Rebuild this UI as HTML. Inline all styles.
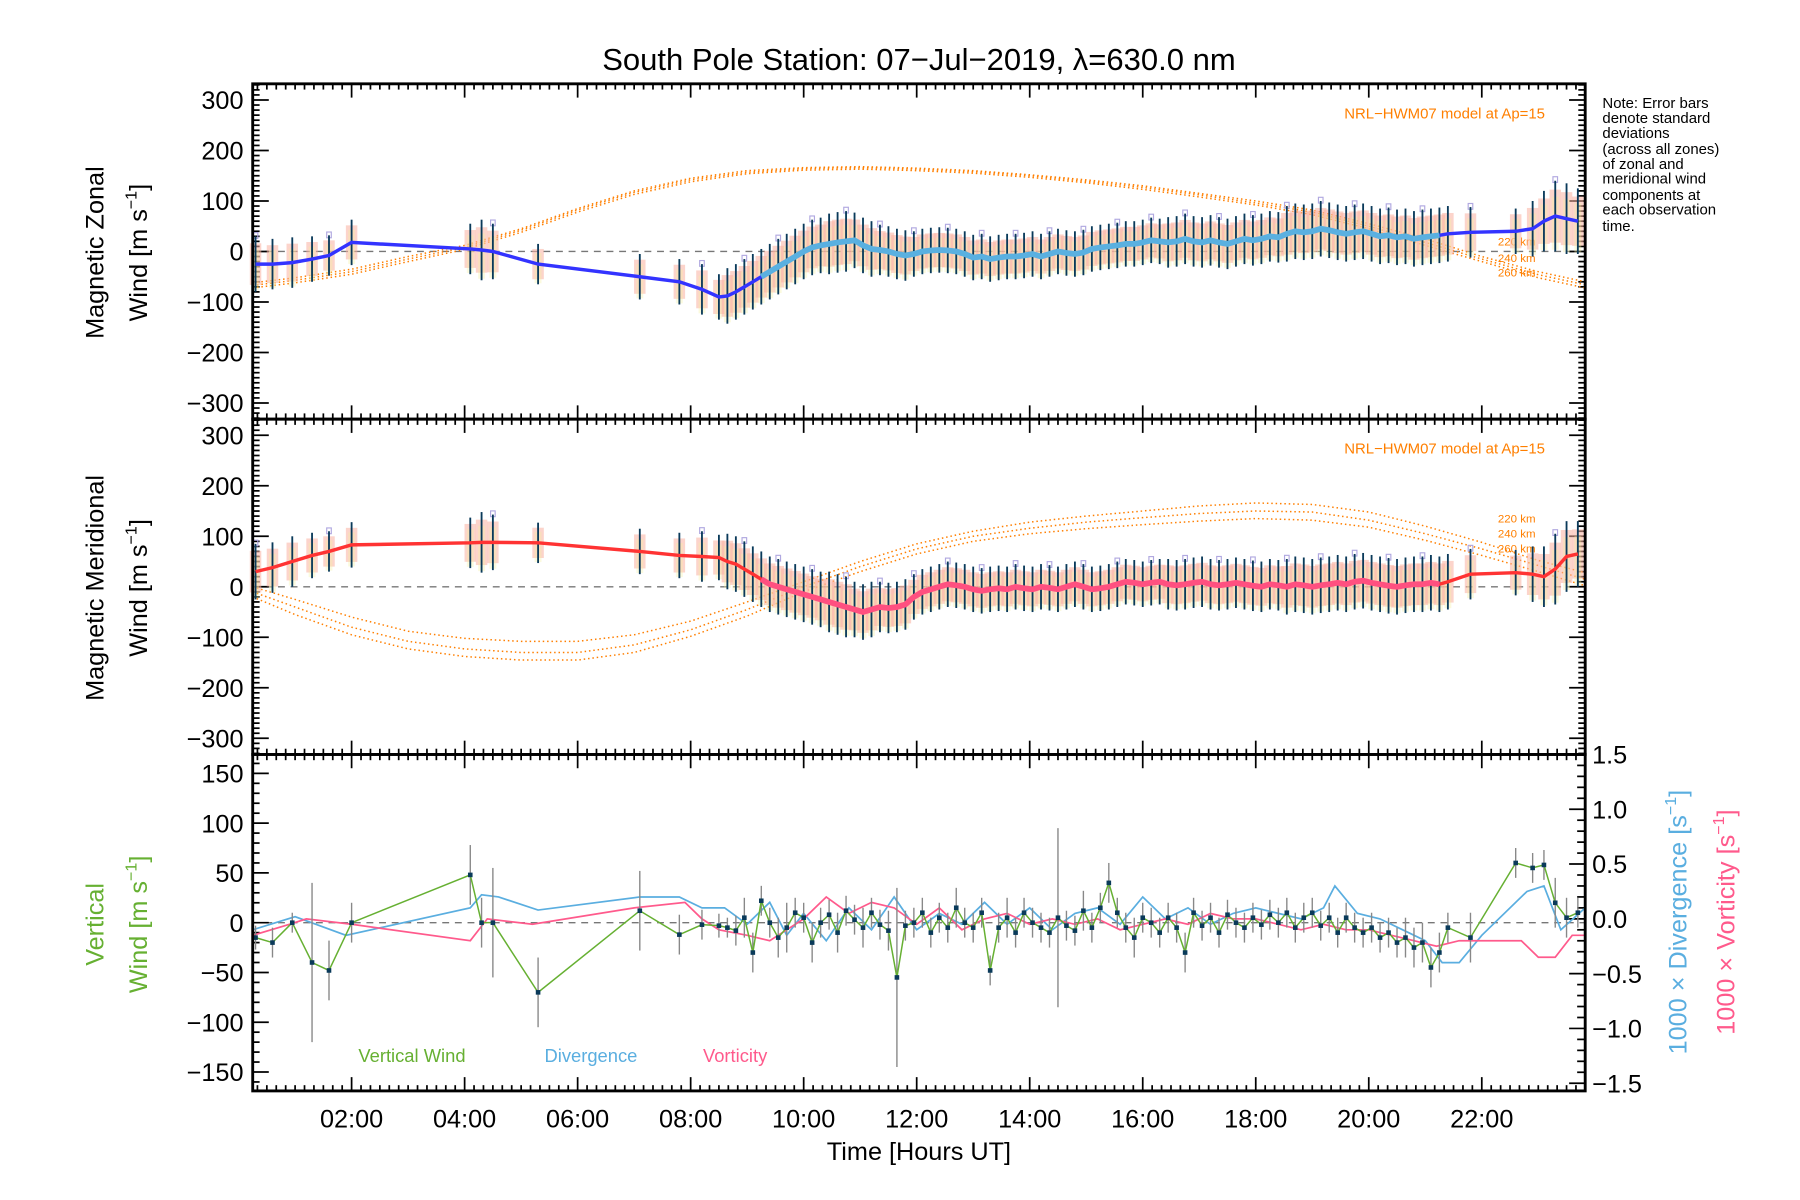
<!DOCTYPE html>
<html><head><meta charset="utf-8"><style>
html,body{margin:0;padding:0;background:#fff;}
svg{display:block;font-family:"Liberation Sans",sans-serif;}
</style></head><body>
<svg id="chart" width="1800" height="1200" viewBox="0 0 1567 1045" preserveAspectRatio="none" xmlns="http://www.w3.org/2000/svg">
<rect width="1567" height="1045" fill="#fff"/>
<text x="800" y="61" font-size="27" text-anchor="middle">South Pole Station: 07−Jul−2019, λ=630.0 nm</text>
<g id="p1"></g>
<g id="p2"></g>
<g id="p3"></g>
<text transform="translate(90,220) rotate(-90)" font-size="22" text-anchor="middle">Magnetic Zonal</text>
<text transform="translate(128,220) rotate(-90)" font-size="22" text-anchor="middle">Wind [m s<tspan font-size="14" dy="-9">−1</tspan><tspan dy="9">]</tspan></text>
<text transform="translate(90,512) rotate(-90)" font-size="22" text-anchor="middle">Magnetic Meridional</text>
<text transform="translate(128,512) rotate(-90)" font-size="22" text-anchor="middle">Wind [m s<tspan font-size="14" dy="-9">−1</tspan><tspan dy="9">]</tspan></text>
<text transform="translate(90,805) rotate(-90)" font-size="22" text-anchor="middle" fill="#66b032">Vertical</text>
<text transform="translate(128,805) rotate(-90)" font-size="22" text-anchor="middle" fill="#66b032">Wind [m s<tspan font-size="14" dy="-9">−1</tspan><tspan dy="9">]</tspan></text>
<text transform="translate(1468,803) rotate(-90)" font-size="22" text-anchor="middle" fill="#5aaee0">1000 × Divergence [s<tspan font-size="14" dy="-9">−1</tspan><tspan dy="9">]</tspan></text>
<text transform="translate(1510,803) rotate(-90)" font-size="22" text-anchor="middle" fill="#ff5a8c">1000 × Vorticity [s<tspan font-size="14" dy="-9">−1</tspan><tspan dy="9">]</tspan></text>
<text x="800" y="1010" font-size="22" text-anchor="middle">Time [Hours UT]</text>
<g font-size="13">
<text x="1395" y="94">Note: Error bars</text><text x="1395" y="107">denote standard</text><text x="1395" y="120">deviations</text><text x="1395" y="134">(across all zones)</text><text x="1395" y="147">of zonal and</text><text x="1395" y="160">meridional wind</text><text x="1395" y="174">components at</text><text x="1395" y="187">each observation</text><text x="1395" y="201">time.</text>
</g>
<text x="312" y="925" font-size="16" fill="#66b032">Vertical Wind</text>
<text x="474" y="925" font-size="16" fill="#5aaee0">Divergence</text>
<text x="612" y="925" font-size="16" fill="#ff5a8c">Vorticity</text>
</svg>
<script>
const obsT=[0.3,0.6,0.95,1.3,1.6,2.0,4.1,4.3,4.5,5.3,7.1,7.8,8.2,8.5,8.65,
8.8,8.95,9.1,9.25,9.4,9.55,9.7,9.85,10.0,10.15,10.3,10.45,10.6,10.75,10.9,11.05,11.2,11.35,11.5,11.65,11.8,11.95,12.1,12.25,12.4,12.55,12.7,12.85,13.0,13.15,13.3,13.45,13.6,13.75,13.9,14.05,14.2,14.35,14.5,14.65,14.8,14.95,15.1,15.25,15.4,15.55,15.7,15.85,16.0,16.15,16.3,16.45,16.6,16.75,16.9,17.05,17.2,17.35,17.5,17.65,17.8,17.95,18.1,18.25,18.4,18.55,18.7,18.85,19.0,19.15,19.3,19.45,19.6,19.75,19.9,20.05,20.2,20.35,20.5,20.65,20.8,20.95,21.1,21.25,21.4,
21.8,22.6,22.9,23.1,23.3,23.5,23.7];
const zonal=[-25,-25,-22,-15,-8,18,5,3,0,-25,-50,-60,-75,-90,-88,
-80,-70,-60,-50,-40,-30,-20,-10,0,8,12,15,18,20,22,12,5,3,0,-5,-8,-5,0,2,3,2,0,-5,-12,-10,-15,-12,-10,-10,-8,-5,-10,-5,0,-3,-5,-2,5,8,10,12,15,15,18,22,20,18,20,25,20,18,22,18,15,20,25,22,25,30,28,35,40,38,40,45,42,38,35,38,40,35,30,32,28,30,25,28,30,32,35,
38,40,45,60,70,65,60];
const merid=[30,38,50,62,70,83,87,88,88,87,70,62,60,58,50,
45,35,25,15,5,0,-5,-10,-15,-20,-25,-30,-35,-40,-45,-50,-45,-40,-42,-40,-35,-20,-10,-5,0,5,3,0,-5,-8,-5,-3,-5,0,-3,-5,0,-2,-5,0,5,0,-5,-3,0,5,10,8,5,8,10,5,3,5,8,10,5,3,5,8,5,2,0,5,3,0,5,3,0,3,5,8,5,10,12,8,5,2,0,3,5,5,8,5,10,
25,28,25,20,35,60,65];
const windErr=[55,50,50,45,40,45,50,60,55,40,45,45,50,45,55,
55,55,55,55,55,55,55,55,55,55,55,60,60,60,55,55,55,50,50,50,50,45,45,45,45,45,45,45,45,45,45,45,45,45,45,45,45,45,45,45,45,45,45,45,45,45,45,45,45,45,45,50,50,50,50,50,50,50,50,50,50,50,50,50,50,55,55,55,55,55,55,55,55,55,55,55,55,55,55,55,55,55,55,55,55,
50,45,55,60,70,70,65];
const vert=[-15,-20,0,-40,-48,0,48,0,0,-70,12,-12,-2,-3,-5,
-8,5,-30,22,0,-15,-5,10,5,-20,0,8,-10,12,3,-5,10,-2,-8,-55,-3,0,10,-10,5,-5,15,0,-5,10,-48,-5,5,-10,10,0,-5,-10,5,-3,-8,12,-5,15,40,10,-5,-15,5,0,-10,5,-5,-30,10,-3,5,-10,8,0,-5,5,-2,8,0,10,-5,5,10,-3,5,-10,5,-5,-10,-5,-15,-10,-20,-15,-25,-20,-45,-30,-5,
-15,60,55,58,20,5,10];
const vertErr=[12,15,10,80,30,20,30,25,55,35,40,20,15,12,10,
15,20,20,15,15,20,25,15,15,20,15,15,20,15,15,20,15,15,20,90,15,15,15,15,15,15,20,15,15,15,15,15,20,15,15,15,15,15,90,15,15,20,15,15,20,15,15,20,15,15,15,15,15,20,15,15,15,15,15,15,15,15,15,15,15,15,15,15,15,15,15,15,15,15,15,15,15,15,15,20,20,20,20,20,15,
25,15,15,15,25,20,15];
const divT=[0.25,1.0,1.9,4.1,4.3,4.6,5.3,7.1,7.8,8.2,8.6,9.0,9.4,9.7,10.0,10.4,10.8,11.2,11.6,12.0,12.4,12.8,13.2,13.6,14.0,14.4,14.8,15.2,15.6,16.0,16.4,16.8,17.2,17.6,18.0,18.4,18.8,19.2,19.4,19.8,20.2,20.6,21.0,21.3,21.6,22.0,22.8,23.1,23.4,23.83];
const divergence=[-0.1,0.02,-0.15,0.1,0.22,0.2,0.08,0.2,0.2,0.1,0.1,-0.05,0.15,-0.15,0.05,-0.2,0.1,-0.1,0.2,-0.1,0.05,-0.05,0.15,-0.05,0.1,-0.1,0.05,0.1,-0.05,0.2,0.0,0.1,-0.05,0.05,0.1,0.05,0.0,0.1,0.3,0.05,0.0,-0.1,-0.2,-0.4,-0.4,-0.15,0.25,0.3,-0.1,0.1];
const vorT=[0.25,0.9,1.2,2.0,4.1,4.4,5.2,7.0,7.9,8.2,8.5,9.0,9.4,9.7,10.0,10.4,10.8,11.2,11.6,12.0,12.4,12.8,13.2,13.6,14.0,14.4,14.8,15.2,15.6,16.0,16.4,16.8,17.2,17.6,18.0,18.4,18.8,19.2,19.6,20.0,20.4,20.8,21.2,21.6,22.0,22.7,23.0,23.3,23.6,23.83];
const vorticity=[-0.15,-0.05,0.0,-0.05,-0.2,0.0,-0.05,0.1,0.15,0.0,-0.1,-0.15,-0.2,-0.1,0.0,0.2,0.05,0.15,0.1,-0.05,0.1,-0.1,0.0,0.05,-0.05,0.0,-0.05,0.0,-0.1,-0.05,0.0,-0.05,0.05,0.0,0.0,-0.05,-0.1,-0.05,-0.1,-0.1,-0.15,-0.2,-0.25,-0.2,-0.2,-0.2,-0.35,-0.35,-0.15,-0.15];
const hwmT=[0.25,1,2,3,4,5,6,7,8,9,10,11,12,13,14,15,16,17,18,19,20,21,22,23,23.83];
const hwmZonal220=[-62,-52,-35,-10,12,45,85,120,145,160,166,168,165,160,152,142,130,115,100,82,55,25,-10,-40,-60];
const hwmZonal240=[-67,-57,-40,-15,8,42,82,117,142,157,164,166,163,158,150,139,127,112,96,78,50,18,-15,-46,-66];
const hwmZonal260=[-72,-62,-45,-20,4,38,78,113,138,154,161,163,160,155,147,136,123,108,92,73,45,12,-20,-52,-72];
const hwmMerid220=[0,-25,-60,-88,-102,-108,-108,-95,-68,-30,10,50,85,110,128,140,150,160,166,163,148,120,88,52,28];
const hwmMerid240=[-10,-40,-80,-108,-123,-130,-130,-115,-85,-45,0,40,75,100,116,128,137,145,150,148,132,105,75,42,15];
const hwmMerid260=[-20,-55,-95,-123,-138,-145,-145,-130,-98,-58,-10,30,65,90,105,115,123,130,135,132,118,92,62,30,2];
const xTicks=[2,4,6,8,10,12,14,16,18,20,22];
const xTickLabels=["02:00","04:00","06:00","08:00","10:00","12:00","14:00","16:00","18:00","20:00","22:00"];
const windTicks=[-300,-200,-100,0,100,200,300];
const vertTicks=[-150,-100,-50,0,50,100,150];
const rightTicks=[-1.5,-1.0,-0.5,0.0,0.5,1.0,1.5];

const NS="http://www.w3.org/2000/svg";
const X0=220,X1=1380,T0=0.25,T1=23.83;
const xs=t=>X0+(t-T0)/(T1-T0)*(X1-X0);
const P1={top:73,bot:365,min:-332,max:332};
const P2={top:365,bot:657,min:-332,max:332};
const P3={top:657,bot:950,min:-169,max:169,rmin:-1.57,rmax:1.5};
const ys=(P,v)=>P.bot-(v-P.min)/(P.max-P.min)*(P.bot-P.top);
const yr=(P,v)=>P.bot-(v-P.rmin)/(P.rmax-P.rmin)*(P.bot-P.top);
function mk(tag,attrs,parent,txt){const e=document.createElementNS(NS,tag);for(const k in attrs)e.setAttribute(k,attrs[k]);if(txt!==undefined)e.textContent=txt;parent.appendChild(e);return e;}
function path(pts){return pts.map((p,i)=>(i?'L':'M')+p[0].toFixed(1)+','+p[1].toFixed(1)).join('');}

function axes(g,P,ticks,minorStep,labels,showX){
  const z=mk('line',{x1:X0,x2:X1,y1:ys(P,0),y2:ys(P,0),stroke:'#777','stroke-width':1.2,'stroke-dasharray':'6,5'},g);
  
  
  for(let v=Math.ceil(P.min/minorStep)*minorStep;v<=P.max;v+=minorStep){
    const y=ys(P,v);const major=ticks.indexOf(v)>=0;const L=major?14:6;
    mk('line',{x1:X0,x2:X0+L,y1:y,y2:y,stroke:'#000','stroke-width':1.5},g);
    if(P.rmin===undefined) mk('line',{x1:X1,x2:X1-L,y1:y,y2:y,stroke:'#000','stroke-width':1.5},g);
  }
  ticks.forEach(v=>{const t=mk('text',{x:212,y:ys(P,v)+8,'font-size':22,'text-anchor':'end'},g,(v<0?'−':'')+Math.abs(v));
    
    });
  for(let i=1;i<=23*6+6;i++){const t=i/6;if(t<T0||t>T1)continue;const x=xs(t);const major=Math.abs(t-Math.round(t))<1e-6&&Math.round(t)%2===0;const L=major?12:5;
    mk('line',{x1:x,x2:x,y1:P.bot,y2:P.bot-L,stroke:'#000','stroke-width':1.5},g);
    mk('line',{x1:x,x2:x,y1:P.top,y2:P.top+L,stroke:'#000','stroke-width':1.5},g);}
  if(showX) xTicks.forEach((t,i)=>{const e=mk('text',{x:xs(t),y:982,'font-size':22,'text-anchor':'middle'},g,xTickLabels[i]);
    
    });
}
function frame(g,P){const r=mk('rect',{x:X0,y:P.top,width:X1-X0,height:P.bot-P.top,fill:'none',stroke:'#000','stroke-width':2.5},g);
  
  }

function hwm(g,P,arrs,labelYs){
  arrs.forEach((a,k)=>{const p=mk('path',{d:path(hwmT.map((t,i)=>[xs(t),ys(P,a[i])])),fill:'none',stroke:'#ff7f00','stroke-width':1.3,'stroke-dasharray':'1.3,2.5'},g);
    
    });
  const t=mk('text',{x:1345,y:P.top+30,'font-size':13,fill:'#ff7f00','text-anchor':'end'},g,'NRL−HWM07 model at Ap=15');
  
  
  ['220 km','240 km','260 km'].forEach((s,k)=>{const e=mk('text',{x:1304,y:labelYs[k],'font-size':10,fill:'#ff7f00'},g,s);
    
    });
}
function windPanel(g,P,vals,lineColor){
  obsT.forEach((t,i)=>{const x=xs(t);const v=vals[i],e=windErr[i];
    const r1=mk('rect',{x:x-5,y:ys(P,v+e*0.75),width:10,height:ys(P,v-e*0.75)-ys(P,v+e*0.75),fill:'#f9b0a0',opacity:0.55},g);
    
    
    const r2=mk('rect',{x:x-3,y:ys(P,v+e*0.55),width:6,height:ys(P,v-e*0.95)-ys(P,v+e*0.55),fill:'#f3f0a0',opacity:0.35},g);
    
    
    if(i%4===0){const sq=mk('rect',{x:x-2,y:ys(P,v+e*1.05)-2,width:4,height:5,fill:'none',stroke:'#b0a8e0','stroke-width':1},g);
    
    }
  });
  obsT.forEach((t,i)=>{const x=xs(t);
    const l=mk('line',{x1:x,x2:x,y1:ys(P,vals[i]+windErr[i]),y2:ys(P,vals[i]-windErr[i]),stroke:'#0a3a5a','stroke-width':1.6},g);
    
    });
  const pts=obsT.map((t,i)=>[xs(t),ys(P,vals[i])]);
  const ln=mk('path',{d:path(pts),fill:'none',stroke:lineColor,'stroke-width':3},g);
  
  
  const dense=obsT.map((t,i)=>[t,i]).filter(a=>a[0]>=9.2&&a[0]<=21.3).map(a=>[xs(a[0]),ys(P,vals[a[1]])]);
  const hl=mk('path',{d:path(dense),fill:'none',stroke:lineColor==='#3333ff'?'#5ab0e0':'#ff5080','stroke-width':5},g);
  
  
}

const g1=document.getElementById('p1'),g2=document.getElementById('p2'),g3=document.getElementById('p3');
axes(g1,P1,windTicks,10,true,false);
hwm(g1,P1,[hwmZonal220,hwmZonal240,hwmZonal260],[214,228,241]);
windPanel(g1,P1,zonal,'#3333ff');
frame(g1,P1);

axes(g2,P2,windTicks,10,true,false);
hwm(g2,P2,[hwmMerid220,hwmMerid240,hwmMerid260],[455,468,481]);
windPanel(g2,P2,merid,'#ff3333');
frame(g2,P2);

axes(g3,P3,vertTicks,10,true,true);
for(let v=-1.5;v<=1.501;v+=0.1){const y=yr(P3,v);const major=Math.abs(v*2-Math.round(v*2))<1e-6;
  mk('line',{x1:X1,x2:X1-(major?14:7),y1:y,y2:y,stroke:'#000','stroke-width':1.5},g3);}
rightTicks.forEach(v=>{const e=mk('text',{x:1386,y:yr(P3,v)+8,'font-size':22},g3,(v<0?'−':'')+Math.abs(v).toFixed(1));
  
  });
const dv=mk('path',{d:path(divT.map((t,i)=>[xs(t),yr(P3,divergence[i])])),fill:'none',stroke:'#5aaee0','stroke-width':1.5},g3);


const vo=mk('path',{d:path(vorT.map((t,i)=>[xs(t),yr(P3,vorticity[i])])),fill:'none',stroke:'#ff5a8c','stroke-width':1.5},g3);


obsT.forEach((t,i)=>{const x=xs(t);
  const l=mk('line',{x1:x,x2:x,y1:ys(P3,vert[i]+vertErr[i]),y2:ys(P3,vert[i]-vertErr[i]),stroke:'#888','stroke-width':1.2},g3);
  
  });
const vw=mk('path',{d:path(obsT.map((t,i)=>[xs(t),ys(P3,vert[i])])),fill:'none',stroke:'#66b032','stroke-width':1.3},g3);


obsT.forEach((t,i)=>{const c=mk('rect',{x:xs(t)-2,y:ys(P3,vert[i])-2,width:4,height:4,fill:'#0a3a5a'},g3);
  
  });
frame(g3,P3);
</script>
</body></html>
